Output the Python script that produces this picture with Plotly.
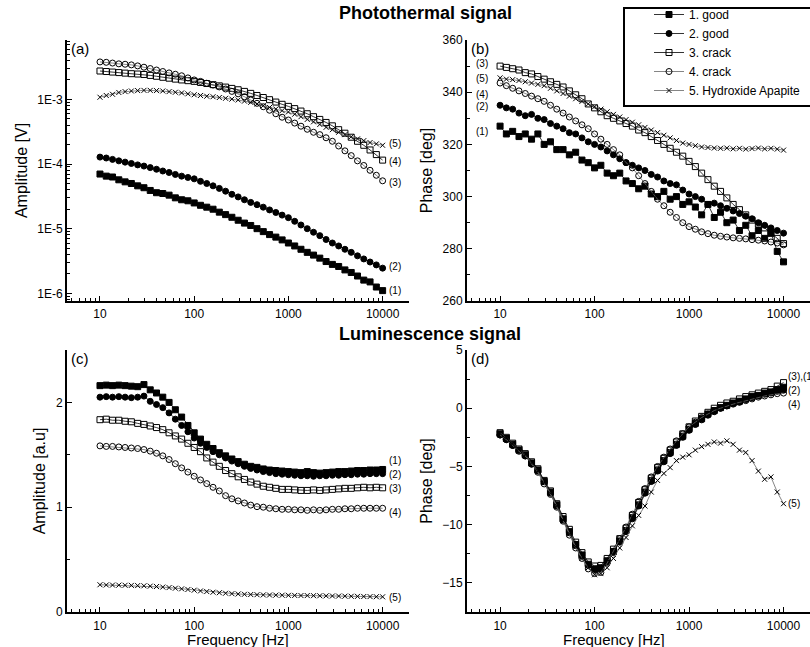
import math
import plotly.graph_objects as go
from plotly.subplots import make_subplots

# ---------------- data ----------------
freq = [10, 11.66, 13.59, 15.85, 18.48, 21.54, 25.12, 29.29, 34.15, 39.81,
        46.42, 54.12, 63.10, 73.56, 85.77, 100, 116.6, 135.9, 158.5, 184.8,
        215.4, 251.2, 292.9, 341.5, 398.1, 464.2, 541.2, 631.0, 735.6, 857.7,
        1000, 1166, 1359, 1585, 1848, 2154, 2512, 2929, 3415, 3981,
        4642, 5412, 6310, 7356, 8577, 10000]

series_names = ["1. good", "2. good", "3. crack", "4. crack", "5. Hydroxide Apapite"]

# (a) photothermal amplitude [V]
pt_amp_1 = [7.0e-5, 6.5e-5, 6.3e-5, 5.7e-5, 5.3e-5, 5.0e-5, 4.6e-5, 4.3e-5, 3.9e-5, 3.6e-5,
            3.5e-5, 3.3e-5, 3.0e-5, 2.8e-5, 2.7e-5, 2.5e-5, 2.3e-5, 2.15e-5, 2.0e-5, 1.8e-5,
            1.65e-5, 1.5e-5, 1.35e-5, 1.22e-5, 1.12e-5, 1.0e-5, 9.0e-6, 8.1e-6, 7.4e-6, 6.7e-6,
            6.0e-6, 5.4e-6, 4.8e-6, 4.3e-6, 3.9e-6, 3.5e-6, 3.1e-6, 2.8e-6, 2.6e-6, 2.3e-6,
            2.1e-6, 1.85e-6, 1.6e-6, 1.5e-6, 1.25e-6, 1.1e-6]
pt_amp_2 = [1.28e-4, 1.24e-4, 1.18e-4, 1.12e-4, 1.07e-4, 1.02e-4, 9.7e-5, 9.3e-5, 8.8e-5, 8.3e-5,
            7.8e-5, 7.4e-5, 6.9e-5, 6.5e-5, 6.2e-5, 5.9e-5, 5.4e-5, 5.0e-5, 4.6e-5, 4.2e-5,
            3.8e-5, 3.4e-5, 3.1e-5, 2.8e-5, 2.55e-5, 2.35e-5, 2.15e-5, 1.95e-5, 1.78e-5, 1.62e-5,
            1.48e-5, 1.30e-5, 1.14e-5, 1.0e-5, 8.8e-6, 7.8e-6, 6.8e-6, 6.0e-6, 5.4e-6, 4.8e-6,
            4.3e-6, 3.8e-6, 3.4e-6, 3.05e-6, 2.75e-6, 2.45e-6]
pt_amp_3 = [2.75e-3, 2.7e-3, 2.65e-3, 2.6e-3, 2.55e-3, 2.5e-3, 2.47e-3, 2.43e-3, 2.35e-3, 2.28e-3,
            2.2e-3, 2.13e-3, 2.06e-3, 2.0e-3, 1.95e-3, 1.9e-3, 1.83e-3, 1.76e-3, 1.69e-3, 1.62e-3,
            1.55e-3, 1.48e-3, 1.41e-3, 1.33e-3, 1.24e-3, 1.15e-3, 1.07e-3, 9.9e-4, 9.1e-4, 8.4e-4,
            7.8e-4, 7.2e-4, 6.6e-4, 6.0e-4, 5.4e-4, 4.9e-4, 4.4e-4, 3.9e-4, 3.4e-4, 3.0e-4,
            2.6e-4, 2.25e-4, 1.95e-4, 1.65e-4, 1.4e-4, 1.15e-4]
pt_amp_4 = [3.8e-3, 3.75e-3, 3.65e-3, 3.55e-3, 3.5e-3, 3.42e-3, 3.3e-3, 3.15e-3, 3.0e-3, 2.85e-3,
            2.7e-3, 2.57e-3, 2.45e-3, 2.32e-3, 2.15e-3, 2.0e-3, 1.9e-3, 1.78e-3, 1.67e-3, 1.56e-3,
            1.45e-3, 1.33e-3, 1.22e-3, 1.1e-3, 9.8e-4, 8.7e-4, 7.7e-4, 6.8e-4, 6.0e-4, 5.3e-4,
            4.8e-4, 4.3e-4, 3.85e-4, 3.45e-4, 3.1e-4, 2.85e-4, 2.55e-4, 2.25e-4, 1.9e-4, 1.6e-4,
            1.35e-4, 1.12e-4, 9.5e-5, 8.0e-5, 6.7e-5, 5.5e-5]
pt_amp_5 = [1.08e-3, 1.15e-3, 1.2e-3, 1.28e-3, 1.32e-3, 1.35e-3, 1.37e-3, 1.38e-3, 1.38e-3, 1.37e-3,
            1.35e-3, 1.32e-3, 1.29e-3, 1.26e-3, 1.22e-3, 1.18e-3, 1.15e-3, 1.12e-3, 1.1e-3, 1.07e-3,
            1.04e-3, 1.01e-3, 9.8e-4, 9.4e-4, 9.0e-4, 8.5e-4, 8.0e-4, 7.5e-4, 7.1e-4, 6.7e-4,
            6.4e-4, 5.9e-4, 5.4e-4, 4.9e-4, 4.5e-4, 4.1e-4, 3.7e-4, 3.4e-4, 3.1e-4, 2.85e-4,
            2.65e-4, 2.45e-4, 2.3e-4, 2.15e-4, 2.05e-4, 1.95e-4]

# (b) photothermal phase [deg]
pt_phase_1 = [327, 324, 325, 323, 324, 322, 324, 320, 321, 318,
              318, 316, 317, 314, 313, 311, 312, 309, 308, 309,
              306, 305, 303, 304, 301, 300, 302, 299, 300, 297,
              298, 296, 293, 297, 292, 294, 290, 291, 287, 289,
              285, 287, 284, 286, 279, 275]
pt_phase_2 = [335, 334, 333.5, 332, 331, 331.5, 330, 329.5, 328, 327,
              326, 324.5, 324, 322.5, 321, 320, 319, 317.5, 316, 314.5,
              313, 312, 311, 310, 308.5, 307.5, 306, 305, 304.5, 302.5,
              301, 300, 299, 297, 297.5, 296.5, 295.5, 294.5, 293.5, 292.5,
              291.5, 290, 289, 288, 287, 286]
pt_phase_3 = [350, 349.5, 349, 348.5, 347.5, 347, 346, 345, 344, 343,
              342, 340.5, 339, 337.5, 335.5, 334, 332.5, 331, 330, 329,
              328, 327, 325.5, 324.5, 323, 321.5, 320, 318.5, 317, 315.5,
              313.5, 311.5, 309, 306.5, 304, 302, 299.5, 297, 295, 293,
              291, 289.5, 288, 286, 284, 282]
pt_phase_4 = [343.5, 342.5, 341.5, 340.5, 339.5, 338.5, 337.5, 336.5, 335, 333.5,
              332, 330.5, 329, 327.5, 326, 324, 322, 320, 318, 316,
              313, 311, 308, 305, 302, 299, 296.5, 294, 292, 290,
              288.5, 287.5, 286.5, 285.8, 285.2, 284.8, 284.5, 284.2, 284, 283.8,
              283.5, 283.3, 283, 282.6, 282.2, 281.5]
pt_phase_5 = [345.5, 345, 344.8, 344.5, 344, 343.5, 343, 342.5, 341.5, 340.5,
              339.5, 338.5, 337.5, 336.5, 335.5, 334.4, 333.5, 332.5, 331.5, 330.5,
              329.5, 328.5, 327.5, 326.5, 325.5, 324.5, 323.5, 322.5, 321.5, 320.5,
              320, 319.5, 319, 318.8, 318.6, 318.5, 318.6, 318.3, 318.5, 318.2,
              318.4, 318.6, 318.3, 318.5, 318.2, 317.8]

# (c) luminescence amplitude [a.u]
lum_amp_1 = [2.16, 2.165, 2.16, 2.165, 2.16, 2.155, 2.15, 2.17, 2.12, 2.09,
             2.05, 2.0, 1.93, 1.86, 1.78, 1.71, 1.65, 1.60, 1.56, 1.52,
             1.49, 1.46, 1.435, 1.41, 1.39, 1.38, 1.365, 1.355, 1.35, 1.345,
             1.34, 1.335, 1.33, 1.34, 1.33, 1.325, 1.33, 1.335, 1.34, 1.34,
             1.345, 1.35, 1.35, 1.355, 1.355, 1.36]
lum_amp_2 = [2.05, 2.055, 2.05, 2.055, 2.05, 2.045, 2.05, 2.06, 2.01, 1.98,
             1.95, 1.90, 1.84, 1.78, 1.72, 1.66, 1.61, 1.57, 1.53, 1.50,
             1.47, 1.44, 1.415, 1.39, 1.37, 1.355, 1.34, 1.33, 1.32, 1.315,
             1.31, 1.305, 1.30, 1.30, 1.295, 1.30, 1.30, 1.305, 1.305, 1.31,
             1.31, 1.315, 1.315, 1.32, 1.32, 1.32]
lum_amp_3 = [1.835, 1.84, 1.83, 1.83, 1.82, 1.815, 1.80, 1.79, 1.775, 1.76,
             1.74, 1.71, 1.68, 1.65, 1.61, 1.57, 1.53, 1.47, 1.43, 1.39,
             1.35, 1.32, 1.29, 1.265, 1.24, 1.22, 1.20, 1.19, 1.18, 1.17,
             1.17, 1.165, 1.16, 1.16, 1.165, 1.16, 1.165, 1.17, 1.175, 1.18,
             1.18, 1.185, 1.19, 1.185, 1.19, 1.185]
lum_amp_4 = [1.585, 1.58, 1.58, 1.575, 1.57, 1.565, 1.56, 1.55, 1.535, 1.515,
             1.49, 1.455, 1.415, 1.375, 1.335, 1.295, 1.26, 1.225, 1.19, 1.155,
             1.11, 1.08, 1.06, 1.04, 1.02, 1.005, 1.0, 0.99, 0.985, 0.98,
             0.98, 0.975, 0.975, 0.97, 0.975, 0.97, 0.975, 0.98, 0.98, 0.985,
             0.985, 0.99, 0.99, 0.99, 0.99, 0.99]
lum_amp_5 = [0.26, 0.258, 0.257, 0.256, 0.255, 0.254, 0.252, 0.25, 0.247, 0.243,
             0.238, 0.233, 0.227, 0.221, 0.215, 0.208, 0.201, 0.195, 0.189, 0.184,
             0.179, 0.175, 0.172, 0.169, 0.167, 0.165, 0.163, 0.162, 0.161, 0.16,
             0.159, 0.158, 0.157, 0.157, 0.156, 0.155, 0.154, 0.153, 0.152, 0.151,
             0.15, 0.149, 0.148, 0.147, 0.146, 0.145]

# (d) luminescence phase [deg]
lum_phase_1 = [-2.2, -2.6, -3.1, -3.6, -4.0, -4.7, -5.3, -6.3, -7.2, -8.3,
               -9.5, -10.6, -11.7, -12.6, -13.4, -13.8, -13.7, -13.1, -12.3, -11.4,
               -10.5, -9.4, -8.3, -7.2, -6.2, -5.3, -4.5, -3.8, -3.1, -2.4,
               -1.8, -1.3, -0.9, -0.5, -0.2, 0.05, 0.25, 0.45, 0.6, 0.8,
               1.0, 1.1, 1.3, 1.4, 1.6, 1.8]
lum_phase_2 = [-2.3, -2.7, -3.2, -3.6, -4.1, -4.8, -5.4, -6.3, -7.3, -8.4,
               -9.6, -10.7, -11.8, -12.7, -13.5, -13.9, -13.8, -13.2, -12.4, -11.5,
               -10.6, -9.5, -8.4, -7.3, -6.3, -5.4, -4.6, -3.9, -3.2, -2.5,
               -1.9, -1.4, -1.0, -0.6, -0.3, 0.0, 0.2, 0.4, 0.55, 0.75,
               0.9, 1.05, 1.2, 1.3, 1.45, 1.55]
lum_phase_3 = [-2.1, -2.5, -3.0, -3.5, -3.9, -4.6, -5.2, -6.2, -7.1, -8.2,
               -9.3, -10.4, -11.5, -12.4, -13.2, -13.55, -13.5, -12.9, -12.1, -11.2,
               -10.3, -9.2, -8.1, -7.0, -6.0, -5.1, -4.3, -3.6, -2.9, -2.2,
               -1.6, -1.1, -0.7, -0.35, 0.0, 0.25, 0.45, 0.6, 0.8, 1.0,
               1.15, 1.3, 1.45, 1.6, 1.9, 2.2]
lum_phase_4 = [-2.3, -2.7, -3.2, -3.7, -4.1, -4.8, -5.5, -6.5, -7.4, -8.5,
               -9.7, -10.9, -12.0, -12.9, -13.8, -14.2, -14.1, -13.3, -12.3, -11.2,
               -10.2, -9.1, -8.0, -6.9, -5.9, -5.0, -4.2, -3.5, -2.8, -2.2,
               -1.6, -1.2, -0.8, -0.5, -0.2, 0.0, 0.2, 0.35, 0.5, 0.65,
               0.8, 0.95, 1.05, 1.15, 1.25, 1.3]
lum_phase_5 = [-2.1, -2.5, -3.0, -3.5, -4.0, -4.7, -5.4, -6.4, -7.3, -8.4,
               -9.6, -10.8, -11.9, -12.9, -13.7, -14.3, -14.2, -13.7, -12.9, -12.0,
               -11.1, -10.1, -9.2, -8.4, -7.2, -6.2, -5.6, -5.1, -4.5, -4.2,
               -4.0, -3.6, -3.3, -3.1, -2.9, -3.0, -2.8, -3.1, -3.6, -3.8,
               -4.5, -5.4, -6.1, -5.9, -7.2, -8.2]

# tick labels
x_tick_vals = [10, 100, 1000, 10000]
x_tick_text = ["10", "100", "1000", "10000"]
amp_tick_vals = [1e-6, 1e-5, 1e-4, 1e-3]
amp_tick_text = ["1E-6", "1E-5", "1E-4", "1E-3"]

# curve labels: (text, position value)
labels_a = [("(5)", 2.05e-4), ("(4)", 1.08e-4), ("(3)", 5.2e-5), ("(2)", 2.6e-6), ("(1)", 1.1e-6)]
labels_b = [("(3)", 351), ("(5)", 345.3), ("(4)", 339.3), ("(2)", 334.5), ("(1)", 324.8)]
labels_c = [("(1)", 1.45), ("(2)", 1.31), ("(3)", 1.18), ("(4)", 0.95), ("(5)", 0.135)]
labels_d = [("(3),(1)", 2.7), ("(2)", 1.5), ("(4)", 0.3), ("(5)", -8.2)]

# ---------------- styling ----------------
FONT = "Liberation Sans, Arial, Helvetica, sans-serif"
symbols = ["square", "circle", "square-open", "circle-open", "x-thin"]
sizes = [6, 6, 6, 6, 5]
line_colors = ["black", "black", "black", "#666666", "#666666"]

fig = make_subplots(rows=2, cols=2)

panels = [
    (1, 1, [pt_amp_1, pt_amp_2, pt_amp_3, pt_amp_4, pt_amp_5]),
    (1, 2, [pt_phase_1, pt_phase_2, pt_phase_3, pt_phase_4, pt_phase_5]),
    (2, 1, [lum_amp_1, lum_amp_2, lum_amp_3, lum_amp_4, lum_amp_5]),
    (2, 2, [lum_phase_1, lum_phase_2, lum_phase_3, lum_phase_4, lum_phase_5]),
]
for row, col, series in panels:
    for i, yv in enumerate(series):
        fig.add_trace(go.Scatter(
            x=freq, y=yv, mode="lines+markers", name=series_names[i],
            legendgroup=series_names[i], showlegend=(row == 1 and col == 2),
            marker=dict(symbol=symbols[i], size=sizes[i], color="black",
                        line=dict(width=1, color="black")),
            line=dict(color=line_colors[i], width=0.8),
        ), row=row, col=col)

W, H = 810, 647
L = [67 / W, 409 / W]
R = [467 / W, 1.0]
T = [1 - 301 / H, 1 - 40 / H]
B = [1 - 612 / H, 1 - 350 / H]

minor_x = [m * d for d in (1, 10, 100, 1000, 10000) for m in range(2, 10) if 4.4 < m * d < 19000]
minor_amp = [m * d for d in (1e-7, 1e-6, 1e-5, 1e-4, 1e-3) for m in range(2, 10) if 7.6e-7 < m * d < 8.3e-3]

axis_common = dict(showline=True, linewidth=2, linecolor="black", showgrid=False,
                   zeroline=False, ticks="inside", ticklen=5, tickwidth=1, tickcolor="black",
                   automargin=False,
                   tickfont=dict(family=FONT, size=12, color="black"))

xcommon = dict(axis_common, type="log", range=[0.65, 4.28], tickmode="array",
               tickvals=x_tick_vals, ticktext=x_tick_text,
               minor=dict(tickmode="array", tickvals=minor_x, ticks="inside", ticklen=3,
                          tickwidth=1, tickcolor="black", showgrid=False))

title_font = dict(family=FONT, size=16, color="black")

fig.update_layout(
    width=W, height=H, margin=dict(l=0, r=0, t=0, b=0, autoexpand=False),
    paper_bgcolor="white", plot_bgcolor="white",
    font=dict(family=FONT, color="black"),
    xaxis=dict(xcommon, domain=L, ticklabelstandoff=1),
    xaxis2=dict(xcommon, domain=R, ticklabelstandoff=1),
    xaxis3=dict(xcommon, domain=L, ticklabelstandoff=2),
    xaxis4=dict(xcommon, domain=R, ticklabelstandoff=2),
    yaxis=dict(axis_common, domain=T, type="log",
               range=[math.log10(7.6e-7), math.log10(8.3e-3)],
               tickmode="array", tickvals=amp_tick_vals, ticktext=amp_tick_text,
               minor=dict(tickmode="array", tickvals=minor_amp, ticks="inside", ticklen=3,
                          tickwidth=1, tickcolor="black", showgrid=False),
               title=dict(text="Amplitude [V]", font=title_font, standoff=6)),
    yaxis2=dict(axis_common, domain=T, range=[260, 360], dtick=20, tick0=260,
                minor=dict(dtick=10, ticks="inside", ticklen=3, tickwidth=1,
                           tickcolor="black", showgrid=False),
                title=dict(text="Phase [deg]", font=title_font, standoff=6)),
    yaxis3=dict(axis_common, domain=B, range=[0, 2.5], dtick=1, tick0=0,
                minor=dict(dtick=0.5, ticks="inside", ticklen=3, tickwidth=1,
                           tickcolor="black", showgrid=False),
                title=dict(text="Amplitude [a.u]", font=title_font, standoff=6)),
    yaxis4=dict(axis_common, domain=B, range=[-17.5, 5], dtick=5, tick0=0,
                minor=dict(dtick=2.5, ticks="inside", ticklen=3, tickwidth=1,
                           tickcolor="black", showgrid=False),
                title=dict(text="Phase [deg]", font=title_font, standoff=6)),
    legend=dict(x=649 / W, y=1.0, xanchor="left", yanchor="top",
                bgcolor="rgba(0,0,0,0)", borderwidth=0,
                font=dict(family=FONT, size=12, color="black"), tracegroupgap=0),
    showlegend=True,
)

# legend frame
fig.add_shape(type="rect", xref="paper", yref="paper",
              x0=624 / W, x1=1.03, y0=1 - 106 / H, y1=1 - 8 / H,
              line=dict(color="black", width=2))

ann = []
# section titles
ann.append(dict(text="<b>Photothermal signal</b>", xref="paper", yref="paper",
                x=425 / W, y=1 - 13 / H, showarrow=False, xanchor="center", yanchor="middle",
                font=dict(family=FONT, size=18, color="black")))
ann.append(dict(text="<b>Luminescence signal</b>", xref="paper", yref="paper",
                x=430 / W, y=1 - 334 / H, showarrow=False, xanchor="center", yanchor="middle",
                font=dict(family=FONT, size=18, color="black")))
# bottom x-axis titles
for ax in ("x3", "x4"):
    ann.append(dict(text="Frequency [Hz]", xref="%s domain" % ax, yref="paper",
                    x=0.5 if ax == "x3" else 0.43, y=1 - 639 / H, xanchor="center", yanchor="middle",
                    showarrow=False, font=dict(family=FONT, size=15, color="black")))
# panel letters
for ax, letter in (("", "(a)"), ("2", "(b)"), ("3", "(c)"), ("4", "(d)")):
    ann.append(dict(text=letter, xref="x%s domain" % ax, yref="y%s domain" % ax,
                    x=0.0, y=1.0, xanchor="left", yanchor="top", xshift=2, yshift=2,
                    showarrow=False, font=dict(family=FONT, size=15, color="black")))
# curve labels
lab_font = dict(family=FONT, size=10, color="black")
for t, v in labels_a:
    ann.append(dict(text=t, xref="x", yref="y", x=math.log10(x_tick_vals[-1]), y=math.log10(v),
                    xanchor="left", xshift=4, showarrow=False, font=lab_font))
for t, v in labels_b:
    ann.append(dict(text=t, xref="x2", yref="y2", x=math.log10(x_tick_vals[0]), y=v,
                    xanchor="right", xshift=-10, showarrow=False, font=lab_font))
for t, v in labels_c:
    ann.append(dict(text=t, xref="x3", yref="y3", x=math.log10(x_tick_vals[-1]), y=v,
                    xanchor="left", xshift=4, showarrow=False, font=lab_font))
for t, v in labels_d:
    ann.append(dict(text=t, xref="x4", yref="y4", x=math.log10(x_tick_vals[-1]), y=v,
                    xanchor="left", xshift=2, showarrow=False, font=lab_font))
fig.update_layout(annotations=ann)

fig.write_html("out.html", config={"displayModeBar": False},
               post_script="document.body.style.margin='0';document.body.style.padding='0';")
